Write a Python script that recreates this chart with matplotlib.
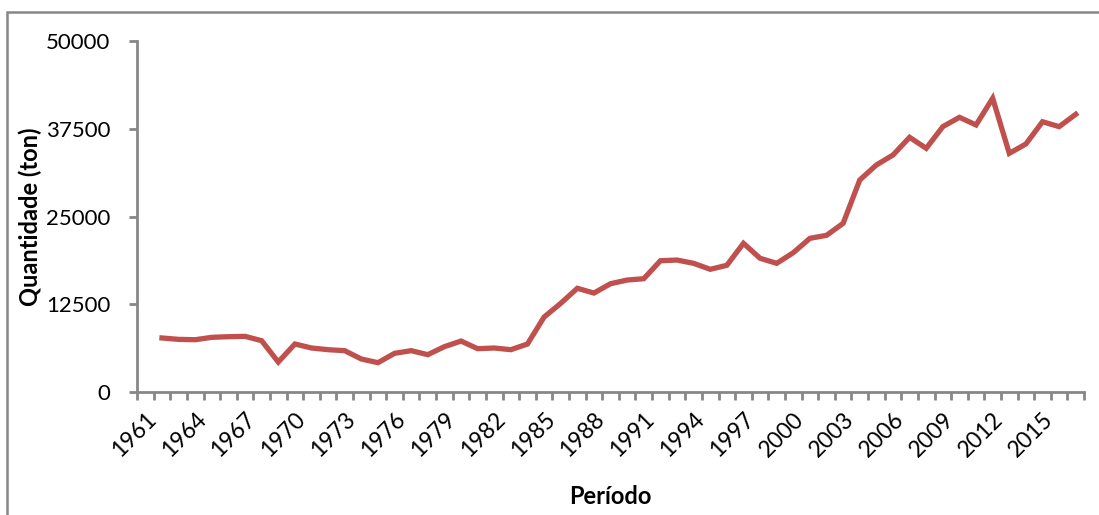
#%% Bibliotek
import matplotlib.pyplot as plt
import matplotlib.patches as patches
import numpy as np

plt.rcParams['font.family'] = ['Lato', 'DejaVu Sans']

#%% Data (1961 står uten verdi)
aar = list(range(1961, 2018))
mengde = [np.nan,
          7700, 7500, 7450, 7790, 7880, 7930, 7310, 4270, 6840, 6270,
          6030, 5890, 4700, 4180, 5510, 5890, 5320, 6460, 7260, 6170,
          6270, 6030, 6840, 10680, 12630, 14770, 14100, 15430, 15950, 16140,
          18700, 18800, 18330, 17480, 18050, 21180, 19050, 18330, 19850, 21890,
          22320, 24030, 30200, 32340, 33760, 36280, 34710, 37800, 39130, 38040,
          41840, 34000, 35330, 38500, 37800, 39560]
y_ticks = [0, 12500, 25000, 37500, 50000]
aksefarge = '#878787'
linjefarge = '#C0504D'

#%% Figur
fig = plt.figure(figsize=(10.99, 5.15), dpi=100)
ax = fig.add_axes([0.1247, 0.2388, 0.8617, 0.6816])

x = np.arange(len(aar))
ax.plot(x, mengde, color=linjefarge, linewidth=3.8, solid_joinstyle='miter')

# akser
ax.set_xlim(-0.5, len(aar) - 0.5)
ax.set_ylim(0, 50000)
ax.set_yticks(y_ticks)
ax.set_yticklabels([str(v) for v in y_ticks], fontsize=16)

ax.set_xticks(np.arange(len(aar) + 1) - 0.5)   # tick-streker mellom kategoriene
ax.set_xticklabels([])
ax.set_xticks(x[::3], minor=True)
ax.set_xticklabels([str(a) for a in aar[::3]], minor=True, rotation=45,
                   ha='right', rotation_mode='anchor', fontsize=16.5)
ax.tick_params(axis='x', which='major', length=6, width=2, color=aksefarge, direction='out')
ax.tick_params(axis='x', which='minor', length=0, pad=12)
ax.tick_params(axis='y', length=6, width=2, color=aksefarge, pad=13)

for s in ['top', 'right']:
    ax.spines[s].set_visible(False)
for s in ['left', 'bottom']:
    ax.spines[s].set_color(aksefarge)
    ax.spines[s].set_linewidth(2)

ax.set_ylabel('Quantidade (ton)', fontsize=17, fontweight='bold')
ax.yaxis.set_label_coords(-0.113, 0.5)
ax.yaxis.label.set_va('center')
ax.set_xlabel('Período', fontsize=17, fontweight='bold')
ax.xaxis.set_label_coords(0.4995, -0.299)
ax.xaxis.label.set_va('center')

# ramme rundt diagrammet (kuttet i høyre og nedre kant)
ramme = patches.Rectangle((7 / 1099, -0.2), 1.2, 0.9767 + 0.2, transform=fig.transFigure,
                          fill=False, edgecolor=aksefarge, linewidth=1.8)
fig.patches.append(ramme)

fig.savefig('out.png', dpi=100)
